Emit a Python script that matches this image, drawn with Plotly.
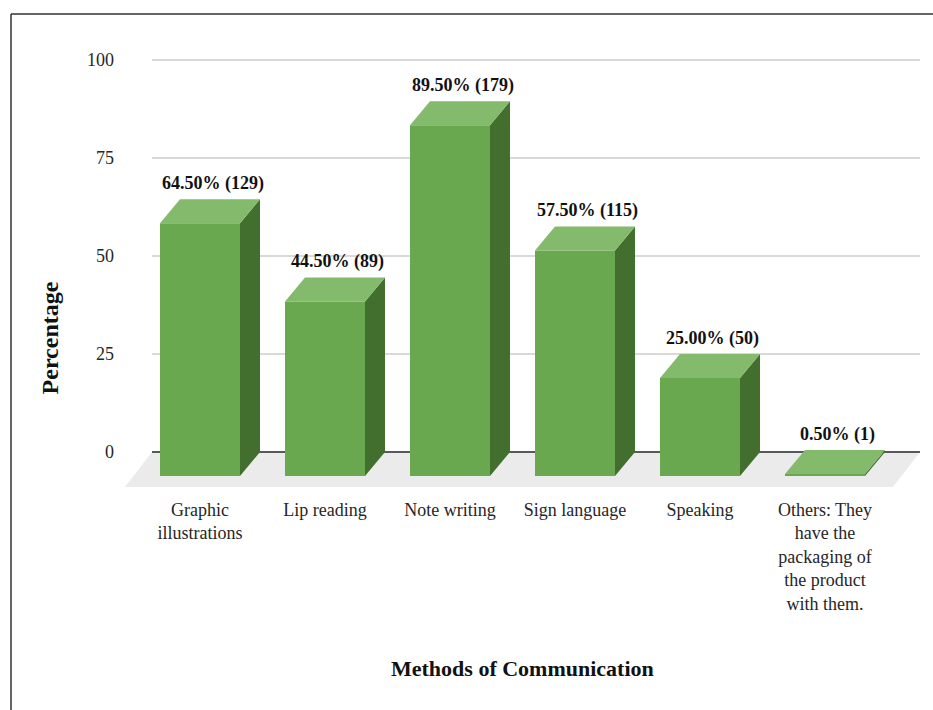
import plotly.graph_objects as go

# Survey results: methods used to communicate
categories = [
    "Graphic<br>illustrations",
    "Lip reading",
    "Note writing",
    "Sign language",
    "Speaking",
    "Others: They<br>have the<br>packaging of<br>the product<br>with them.",
]
percentages = [64.5, 44.5, 89.5, 57.5, 25.0, 0.5]
counts = [129, 89, 179, 115, 50, 1]
y_ticks = [0, 25, 50, 75, 100]

# 3-D look: depth offset of each bar (x in category units, y in value units)
DX, DY = 0.16, 6.12
HALF_W = 0.32
FLOOR_DX, FLOOR_DY = 0.216, 8.93
X_MIN, X_MAX = -0.6, 5.76
Y_MIN, Y_MAX = -8.93, 105.1

FRONT = "#69a84f"
TOP = "#83ba6b"
SIDE = "#426f2e"
FLOOR = "#ebebeb"
FONT = "Liberation Serif"

fig = go.Figure()


def poly(xs, ys, color):
    fig.add_trace(go.Scatter(
        x=xs + [xs[0]], y=ys + [ys[0]], mode="lines", fill="toself",
        fillcolor=color, line=dict(width=0, color=color),
        hoverinfo="skip", showlegend=False))


# floor
back_l = X_MIN + FLOOR_DX
poly([back_l, X_MAX, X_MAX - FLOOR_DX, X_MIN], [0, 0, -FLOOR_DY, -FLOOR_DY], FLOOR)

# gridlines on the back wall
for t in y_ticks:
    fig.add_trace(go.Scatter(
        x=[back_l, X_MAX], y=[t, t], mode="lines",
        line=dict(color="#595959" if t == 0 else "#d9d9d9", width=2),
        hoverinfo="skip", showlegend=False))

# bars
for i, v in enumerate(percentages):
    xl, xr = i - HALF_W, i + HALF_W
    y0, y1 = -DY, v - DY
    # right side face
    poly([xr, xr + DX, xr + DX, xr], [y0, 0, v, y1], SIDE)
    # front face
    poly([xl, xr, xr, xl], [y0, y0, y1, y1], FRONT)
    # top face
    poly([xl, xr, xr + DX, xl + DX], [y1, y1, v, v], TOP)

# value labels
for i, (v, n) in enumerate(zip(percentages, counts)):
    fig.add_annotation(
        x=i + 0.1, y=v + 0.8, xref="x", yref="y", yanchor="bottom",
        text=f"<b>{v:.2f}% ({n})</b>", showarrow=False,
        font=dict(family=FONT, size=18, color="#111111"))

# axis titles
fig.add_annotation(
    x=-0.094, y=0.333, xref="paper", yref="paper", textangle=-90,
    xanchor="center", yanchor="middle",
    text="<b>Percentage</b>", showarrow=False,
    font=dict(family=FONT, size=24, color="#111111"))
fig.add_annotation(
    x=0.5, y=-0.405, xref="paper", yref="paper", yanchor="middle",
    text="<b>Methods of Communication</b>", showarrow=False,
    font=dict(family=FONT, size=22, color="#111111"))

# frame
frame = dict(color="#333333", width=1.5)
fig.add_shape(type="line", xref="paper", yref="paper",
              x0=-0.1434, x1=-0.1434, y0=1.058, y1=-0.6, line=frame)
fig.add_shape(type="line", xref="paper", yref="paper",
              x0=-0.1434, x1=1.02, y0=1.058, y1=1.058, line=frame)

fig.update_xaxes(
    range=[X_MIN, X_MAX], tickvals=list(range(len(categories))),
    ticktext=categories, showgrid=False, zeroline=False, showline=False,
    ticks="", ticklabelstandoff=10,
    tickfont=dict(family=FONT, size=18, color="#262626"))
fig.update_yaxes(
    range=[Y_MIN, Y_MAX], tickvals=y_ticks, showgrid=False, zeroline=False,
    showline=False, ticks="", ticklabelstandoff=10,
    tickfont=dict(family=FONT, size=18, color="#262626"))

fig.update_layout(
    width=933, height=710, plot_bgcolor="white", paper_bgcolor="white",
    margin=dict(l=125, r=13, t=40, b=223, autoexpand=False),
    showlegend=False)

fig.write_html("out.html")
